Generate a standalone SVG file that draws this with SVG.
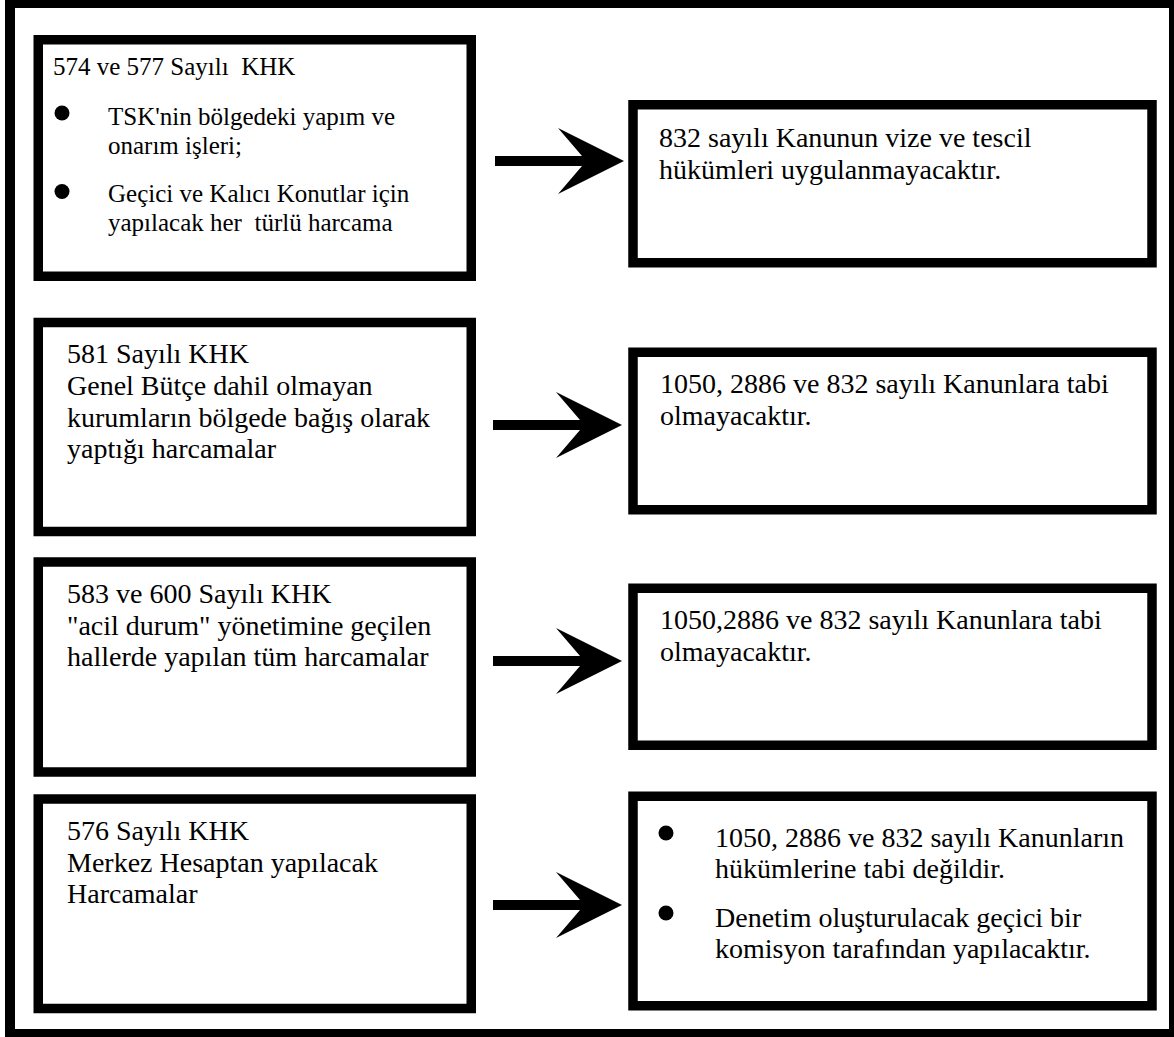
<svg xmlns="http://www.w3.org/2000/svg" width="1174" height="1037" viewBox="0 0 1174 1037">
  <style>
    .frame { fill: none; stroke: #000; stroke-width: 10; }
    .box { fill: #fff; stroke: #000; stroke-width: 9.5; }
    .t { font-family: "Liberation Serif", "Times New Roman", serif; font-size: 28px; fill: #000; }
    .t25 { font-size: 25px; }
    .dot { fill: #000; }
    .arrow { fill: #000; }
  </style>
  <defs>
    <!-- block arrow: shaft plus notched head, tip at x=0 -->
    <path id="blockArrow" d="M-129,-5 L-42,-5 L-66,-33 L0,0 L-66,33 L-42,5 L-129,5 Z"/>
  </defs>
  <rect x="0" y="0" width="1174" height="1037" fill="#fff"/>
  <rect class="frame" x="10" y="3" width="1164" height="1031"/>

  <g id="node-khk-574-577">
    <rect class="box" x="38.25" y="39.75" width="433" height="236.5"/>
    <text class="t t25" x="53" y="75" xml:space="preserve">574 ve 577 Sayılı  KHK</text>
    <circle class="dot" cx="62" cy="113" r="7.5"/>
    <text class="t t25" x="108" y="125">TSK'nin bölgedeki yapım ve</text>
    <text class="t t25" x="108" y="154">onarım işleri;</text>
    <circle class="dot" cx="62" cy="191.5" r="7.5"/>
    <text class="t t25" x="108" y="202">Geçici ve Kalıcı Konutlar için</text>
    <text class="t t25" x="108" y="231" xml:space="preserve">yapılacak her  türlü harcama</text>
  </g>

  <g id="node-vize-tescil">
    <rect class="box" x="633" y="104.75" width="519" height="158"/>
    <text class="t" x="659" y="147">832 sayılı Kanunun vize ve tescil</text>
    <text class="t" x="659" y="179">hükümleri uygulanmayacaktır.</text>
  </g>

  <g id="node-khk-581">
    <rect class="box" x="38.25" y="322.5" width="433" height="209"/>
    <text class="t" x="67" y="363">581 Sayılı KHK</text>
    <text class="t" x="67" y="395">Genel Bütçe dahil olmayan</text>
    <text class="t" x="67" y="427">kurumların bölgede bağış olarak</text>
    <text class="t" x="67" y="458">yaptığı harcamalar</text>
  </g>

  <g id="node-tabi-degil-1">
    <rect class="box" x="633" y="352.25" width="519" height="157.5"/>
    <text class="t" x="660" y="393">1050, 2886 ve 832 sayılı Kanunlara tabi</text>
    <text class="t" x="660" y="425">olmayacaktır.</text>
  </g>

  <g id="node-khk-583-600">
    <rect class="box" x="38.25" y="562" width="433" height="210"/>
    <text class="t" x="67" y="603">583 ve 600 Sayılı KHK</text>
    <text class="t" x="67" y="634.5">"acil durum" yönetimine geçilen</text>
    <text class="t" x="67" y="666">hallerde yapılan tüm harcamalar</text>
  </g>

  <g id="node-tabi-degil-2">
    <rect class="box" x="633" y="588.25" width="519" height="157"/>
    <text class="t" x="660" y="629">1050,2886 ve 832 sayılı Kanunlara tabi</text>
    <text class="t" x="660" y="661">olmayacaktır.</text>
  </g>

  <g id="node-khk-576">
    <rect class="box" x="38.25" y="799" width="433" height="209.5"/>
    <text class="t" x="67" y="840">576 Sayılı KHK</text>
    <text class="t" x="67" y="872">Merkez Hesaptan yapılacak</text>
    <text class="t" x="67" y="903">Harcamalar</text>
  </g>

  <g id="node-denetim">
    <rect class="box" x="633" y="796.25" width="519" height="209.5"/>
    <circle class="dot" cx="666" cy="833" r="7.5"/>
    <text class="t" x="715" y="847">1050, 2886 ve 832 sayılı Kanunların</text>
    <text class="t" x="715" y="878">hükümlerine tabi değildir.</text>
    <circle class="dot" cx="666" cy="913" r="7.5"/>
    <text class="t" x="715" y="927">Denetim oluşturulacak geçici bir</text>
    <text class="t" x="715" y="958">komisyon tarafından yapılacaktır.</text>
  </g>

  <g id="connectors" class="arrow">
    <use href="#blockArrow" x="624" y="161"/>
    <use href="#blockArrow" x="622" y="425"/>
    <use href="#blockArrow" x="622" y="661"/>
    <use href="#blockArrow" x="622" y="905"/>
  </g>
</svg>
